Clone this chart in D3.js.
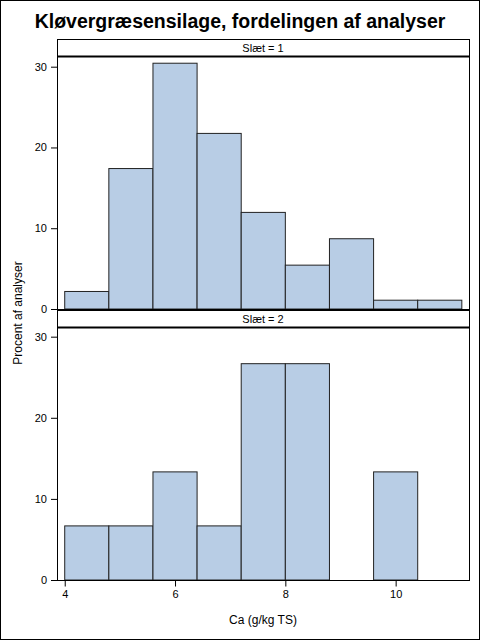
<!DOCTYPE html>
<html>
<head>
<meta charset="utf-8">
<script src="https://cdn.jsdelivr.net/npm/d3@7"></script>
<style>
  body { margin: 0; background: #fff; }
  svg { display: block; font-family: "Liberation Sans", Arial, sans-serif; }
</style>
</head>
<body>
<svg width="480" height="640"></svg>
<script>
// bins of Ca (g/kg TS), width 0.8
const binStarts = [4.0, 4.8, 5.6, 6.4, 7.2, 8.0, 8.8, 9.6, 10.4];
const binWidth = 0.8;
const pctSlaet1 = [2.17, 17.39, 30.43, 21.74, 11.96, 5.43, 8.70, 1.09, 1.09];
const pctSlaet2 = [6.67, 6.67, 13.33, 6.67, 26.67, 26.67, 0, 13.33, 0];
const panelLabels = ['Slæt = 1', 'Slæt = 2'];
const xTicks = [4, 6, 8, 10];
const yTicks = [0, 10, 20, 30];

let svg = d3.select('svg');
const left = 57, right = 469;

svg.append('rect')
  .attr('x', 0.5).attr('y', 0.5).attr('width', 479).attr('height', 639)
  .attr('fill', '#fff').attr('stroke', '#000');

svg.append('text')
  .attr('x', 240).attr('y', 28)
  .attr('text-anchor', 'middle')
  .attr('font-size', 19.5).attr('font-weight', 'bold')
  .text('Kløvergræsensilage, fordelingen af analyser');

let x = d3.scaleLinear().domain([3.86, 11.33]).range([left, right]);

const panels = [
  { label: panelLabels[0], data: pctSlaet1, headTop: 39, top: 57, bottom: 309, ymax: 31.2 },
  { label: panelLabels[1], data: pctSlaet2, headTop: 310, top: 328, bottom: 580, ymax: 31.07 }
];

panels.forEach(function(p) {
  let y = d3.scaleLinear().domain([0, p.ymax]).range([p.bottom, p.top]);

  // header strip
  svg.append('rect')
    .attr('x', left + 0.5).attr('y', p.headTop + 0.5)
    .attr('width', right - left).attr('height', p.top - p.headTop - 1)
    .attr('fill', '#fff').attr('stroke', '#000');
  svg.append('text')
    .attr('x', (left + right) / 2).attr('y', p.headTop + 13)
    .attr('text-anchor', 'middle').attr('font-size', 11)
    .text(p.label);

  // bars
  svg.append('g').selectAll('rect')
    .data(p.data)
    .enter()
    .append('rect')
      .attr('x', function(d, i) { return x(binStarts[i]); })
      .attr('width', function(d, i) { return x(binStarts[i] + binWidth) - x(binStarts[i]); })
      .attr('y', function(d) { return y(d); })
      .attr('height', function(d) { return y(0) - y(d); })
      .attr('fill', '#b8cde5')
      .attr('stroke', '#222')
      .attr('stroke-width', 1)
      .style('display', function(d) { return d > 0 ? null : 'none'; });

  // y axis
  let yAxis = svg.append('g')
    .attr('transform', 'translate(' + left + ',0)')
    .call(d3.axisLeft(y).tickValues(yTicks).tickSize(6).tickPadding(4));
  yAxis.select('.domain').remove();
  yAxis.selectAll('text').attr('font-size', 11).attr('font-family', null).attr('fill', '#000');
  yAxis.selectAll('line').attr('stroke', '#000');

  // thick rule under the header
  svg.append('line')
    .attr('x1', left).attr('x2', right + 1)
    .attr('y1', p.top - 0.5).attr('y2', p.top - 0.5)
    .attr('stroke', '#000').attr('stroke-width', 2);
});

// thick rule between the two panels
svg.append('line')
  .attr('x1', left).attr('x2', right + 1)
  .attr('y1', 310).attr('y2', 310)
  .attr('stroke', '#000').attr('stroke-width', 2);

// outer frame of the panel block
svg.append('rect')
  .attr('x', left + 0.5).attr('y', 39.5)
  .attr('width', right - left).attr('height', 580 - 39)
  .attr('fill', 'none').attr('stroke', '#000');

// x axis
let xAxis = svg.append('g')
  .attr('transform', 'translate(0,580.5)')
  .call(d3.axisBottom(x).tickValues(xTicks).tickSize(6).tickPadding(4));
xAxis.select('.domain').remove();
xAxis.selectAll('text').attr('font-size', 11).attr('font-family', null).attr('fill', '#000');
xAxis.selectAll('line').attr('stroke', '#000');

svg.append('text')
  .attr('x', (left + right) / 2).attr('y', 624)
  .attr('text-anchor', 'middle').attr('font-size', 12)
  .text('Ca (g/kg TS)');

svg.append('text')
  .attr('transform', 'translate(22,313) rotate(-90)')
  .attr('text-anchor', 'middle').attr('font-size', 12)
  .text('Procent af analyser');
</script>
</body>
</html>
